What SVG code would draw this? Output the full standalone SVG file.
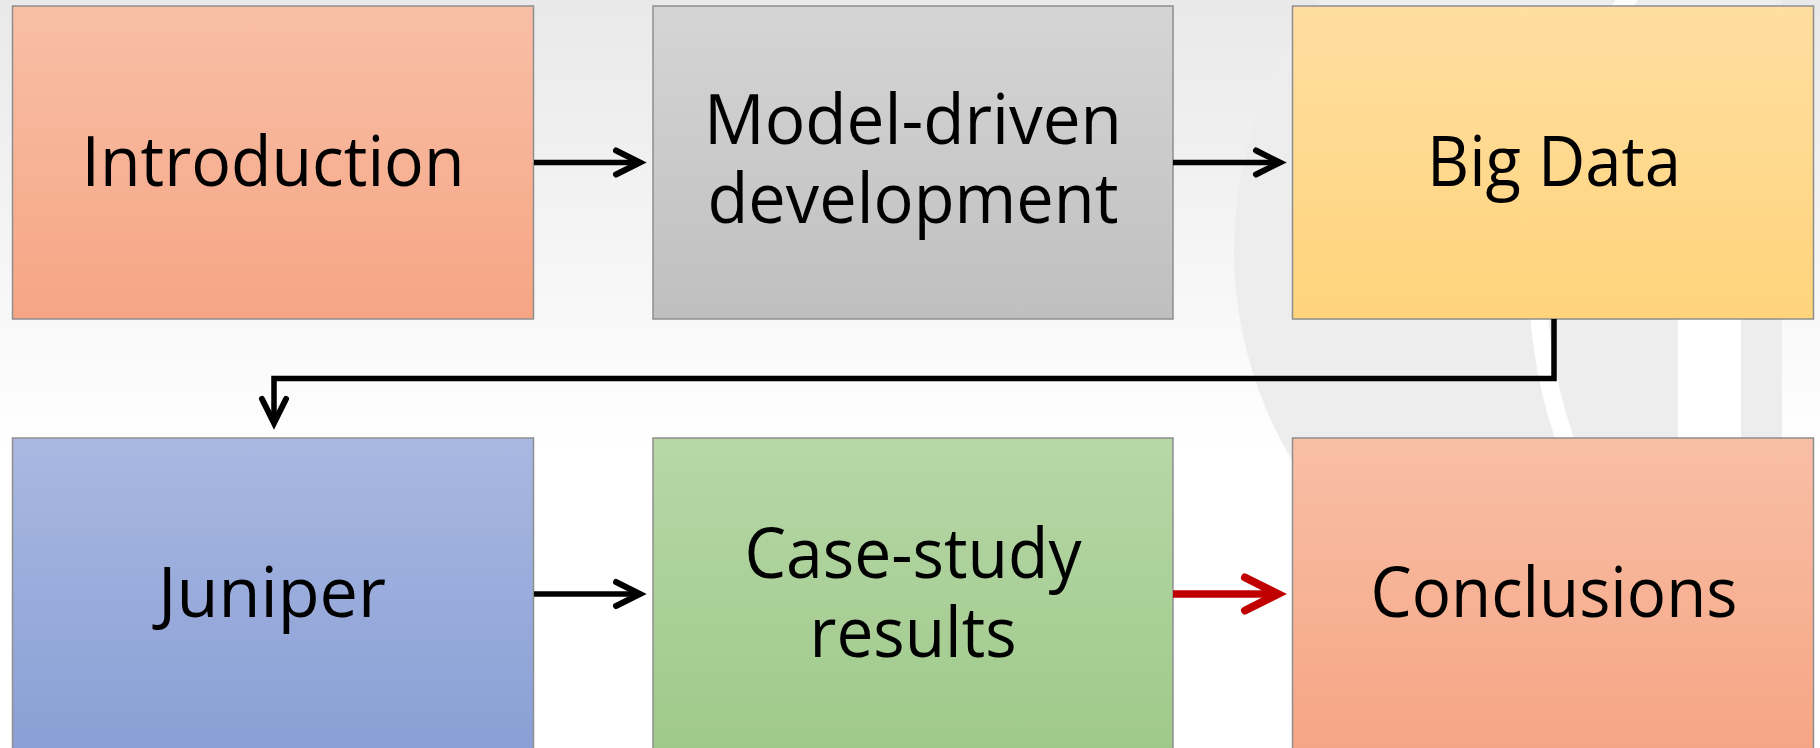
<svg xmlns="http://www.w3.org/2000/svg" width="1820" height="748" viewBox="0 0 1820 748">
  <defs>
    <linearGradient id="bg" x1="0" y1="0" x2="0" y2="1">
      <stop offset="0" stop-color="#E9E9E9"/>
      <stop offset="0.5" stop-color="#FBFBFB"/>
      <stop offset="0.6" stop-color="#FFFFFF"/>
      <stop offset="1" stop-color="#FFFFFF"/>
    </linearGradient>
    <linearGradient id="gSalmon" x1="0" y1="0" x2="0" y2="1">
      <stop offset="0" stop-color="#F8BFA6"/>
      <stop offset="1" stop-color="#F6A584"/>
    </linearGradient>
    <linearGradient id="gGray" x1="0" y1="0" x2="0" y2="1">
      <stop offset="0" stop-color="#D5D5D5"/>
      <stop offset="1" stop-color="#BFBFBF"/>
    </linearGradient>
    <linearGradient id="gYellow" x1="0" y1="0" x2="0" y2="1">
      <stop offset="0" stop-color="#FFDEA1"/>
      <stop offset="1" stop-color="#FFD47B"/>
    </linearGradient>
    <linearGradient id="gBlue" x1="0" y1="0" x2="0" y2="1">
      <stop offset="0" stop-color="#A9B8E1"/>
      <stop offset="1" stop-color="#899FD5"/>
    </linearGradient>
    <linearGradient id="gGreen" x1="0" y1="0" x2="0" y2="1">
      <stop offset="0" stop-color="#B7D7A7"/>
      <stop offset="1" stop-color="#9FC98A"/>
    </linearGradient>
    <clipPath id="wmClip">
      <rect x="0" y="0" width="1782" height="748"/>
    </clipPath>
    <marker id="ah" markerUnits="userSpaceOnUse" viewBox="-40 -25 50 50" markerWidth="50" markerHeight="50" refX="0" refY="0" orient="auto" overflow="visible">
      <path d="M-24,-12 L0,0 L-24,12" fill="none" stroke="#000000" stroke-width="6" stroke-linecap="round" stroke-linejoin="miter"/>
    </marker>
    <marker id="ahRed" markerUnits="userSpaceOnUse" viewBox="-50 -30 60 60" markerWidth="60" markerHeight="60" refX="0" refY="0" orient="auto" overflow="visible">
      <path d="M-33,-16.5 L0,0 L-33,16.5" fill="none" stroke="#C00000" stroke-width="8" stroke-linecap="round" stroke-linejoin="miter"/>
    </marker>
  </defs>
  <style>
    .box { stroke: #8E8E8E; stroke-width: 1.5; }
    .lbl { font-family: "Open Sans", "Noto Sans", "Liberation Sans", sans-serif; font-size: 70px; fill: #000000; text-anchor: middle; }
    .conn { fill: none; stroke: #000000; stroke-width: 5.5; stroke-linejoin: miter; }
    .connRed { fill: none; stroke: #C00000; stroke-width: 7.5; }
  </style>

  <!-- background -->
  <rect x="0" y="0" width="1820" height="748" fill="url(#bg)"/>
  <g id="watermark" clip-path="url(#wmClip)">
    <circle cx="1644" cy="250" r="410" fill="#EDEDED"/>
    <circle cx="2024" cy="280" r="486" fill="none" stroke="#FFFFFF" stroke-width="18"/>
    <rect x="1678" y="300" width="63" height="448" fill="#FFFFFF"/>
  </g>

  <!-- nodes -->
  <g id="introduction">
    <rect class="box" x="12.5" y="6" width="521" height="313" fill="url(#gSalmon)"/>
    <text class="lbl" x="273" y="186" textLength="383" lengthAdjust="spacingAndGlyphs">Introduction</text>
  </g>
  <g id="model-driven">
    <rect class="box" x="653" y="6" width="520" height="313" fill="url(#gGray)"/>
    <text class="lbl" x="913" y="144" textLength="418" lengthAdjust="spacingAndGlyphs">Model-driven</text>
    <text class="lbl" x="913" y="223" textLength="411" lengthAdjust="spacingAndGlyphs">development</text>
  </g>
  <g id="big-data">
    <rect class="box" x="1292.5" y="6" width="521" height="313" fill="url(#gYellow)"/>
    <text class="lbl" x="1554" y="186" textLength="254" lengthAdjust="spacingAndGlyphs">Big Data</text>
  </g>
  <g id="juniper">
    <rect class="box" x="12.5" y="438" width="521" height="313" fill="url(#gBlue)"/>
    <text class="lbl" x="272" y="617" textLength="228" lengthAdjust="spacingAndGlyphs">Juniper</text>
  </g>
  <g id="case-study">
    <rect class="box" x="653" y="438" width="520" height="313" fill="url(#gGreen)"/>
    <text class="lbl" x="913" y="578" textLength="337" lengthAdjust="spacingAndGlyphs">Case-study</text>
    <text class="lbl" x="913" y="657" textLength="207" lengthAdjust="spacingAndGlyphs">results</text>
  </g>
  <g id="conclusions">
    <rect class="box" x="1292.5" y="438" width="521" height="313" fill="url(#gSalmon)"/>
    <text class="lbl" x="1554" y="617" textLength="367" lengthAdjust="spacingAndGlyphs">Conclusions</text>
  </g>

  <!-- connectors -->
  <g id="connectors">
    <path class="conn" d="M534,162.5 H640" marker-end="url(#ah)"/>
    <path class="conn" d="M1173,162.5 H1280" marker-end="url(#ah)"/>
    <path class="conn" d="M1554,319 V378.5 H274 V423" marker-end="url(#ah)"/>
    <path class="conn" d="M534,594 H640" marker-end="url(#ah)"/>
    <path class="connRed" d="M1173,594 H1278" marker-end="url(#ahRed)"/>
  </g>
</svg>
